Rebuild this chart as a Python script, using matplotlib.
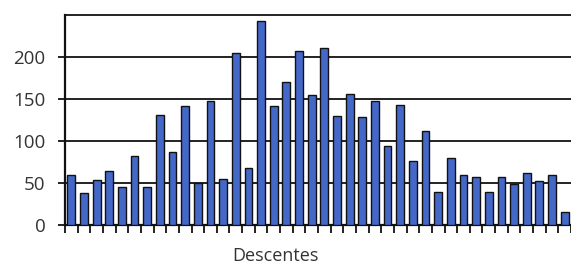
import numpy as np
import matplotlib.pyplot as plt

# descent counts, one bar per category
counts = [59, 38, 53, 64, 45, 82, 45, 131, 87, 141,
          50, 148, 55, 205, 68, 243, 141, 170, 207, 154,
          210, 130, 156, 128, 147, 94, 143, 76, 112, 39,
          80, 59, 57, 39, 57, 49, 62, 52, 59, 15]
y_ticks = [0, 50, 100, 150, 200]
x_label = "Descentes"

BAR_COLOR = '#4468c8'
TEXT_COLOR = '#333333'

plt.rcParams['font.family'] = ['Open Sans', 'DejaVu Sans']

fig = plt.figure(figsize=(5.71, 2.65), dpi=100, facecolor='white')
ax = fig.add_axes([65 / 571, 40 / 265, 506 / 571, 210.3 / 265])

x = np.arange(len(counts))
ax.bar(x, counts, width=0.62, color=BAR_COLOR, edgecolor='#111111', linewidth=1.0, zorder=3)

ax.set_xlim(-0.5, len(counts) - 0.5)
ax.set_ylim(0, 250)

# horizontal grid lines incl. the unlabeled top one at 250
for yv in [50, 100, 150, 200, 250]:
    ax.axhline(yv, color='#222222', linewidth=1.4, zorder=1, clip_on=False)

ax.set_yticks(y_ticks)
ax.set_yticklabels([str(v) for v in y_ticks], fontsize=13.5, color=TEXT_COLOR)
ax.tick_params(axis='y', length=5, width=1.4, color='#222222', pad=9)

ax.set_xticks(np.arange(-0.5, len(counts), 1.0))
ax.set_xticklabels([])
ax.tick_params(axis='x', direction='out', length=6, width=1.4, color='#222222')

for side in ['top', 'right']:
    ax.spines[side].set_visible(False)
ax.spines['left'].set_linewidth(1.6)
ax.spines['left'].set_color('#111111')
ax.spines['bottom'].set_linewidth(1.6)
ax.spines['bottom'].set_color('#111111')

fig.text(275.5 / 571, 4 / 265, x_label, fontsize=13, color=TEXT_COLOR,
         ha='center', va='baseline')

fig.savefig('out.png', dpi=100, facecolor='white')
